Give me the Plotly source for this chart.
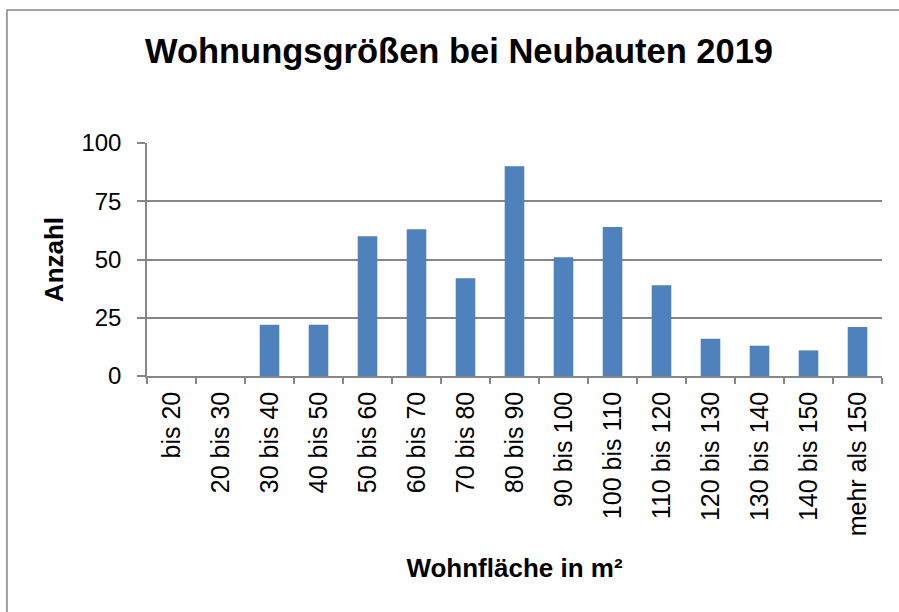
import plotly.graph_objects as go

# Wohnflächen-Klassen (m²) und Anzahl der Neubauwohnungen 2019
kategorien = ["bis 20", "20 bis 30", "30 bis 40", "40 bis 50", "50 bis 60",
              "60 bis 70", "70 bis 80", "80 bis 90", "90 bis 100", "100 bis 110",
              "110 bis 120", "120 bis 130", "130 bis 140", "140 bis 150",
              "mehr als 150"]
anzahl = [0, 0, 22, 22, 60, 63, 42, 90, 51, 64, 39, 16, 13, 11, 21]
y_ticks = [0, 25, 50, 75, 100]

FONT = "Liberation Sans, Arial, sans-serif"
GREY = "#868686"

fig = go.Figure(
    go.Bar(
        x=kategorien,
        y=anzahl,
        marker=dict(color="#4F81BD", line=dict(width=0)),
        hoverinfo="x+y",
    )
)

fig.update_layout(
    width=899,
    height=612,
    margin=dict(l=147, r=17, t=143, b=236),
    paper_bgcolor="white",
    plot_bgcolor="white",
    bargap=0.6,
    showlegend=False,
    font=dict(family=FONT, color="black"),
    title=dict(
        text="<b>Wohnungsgrößen bei Neubauten 2019</b>",
        font=dict(size=34.5, family=FONT, color="black"),
        x=459 / 899,
        xanchor="center",
        xref="container",
        y=1 - 50.5 / 612,
        yanchor="middle",
        yref="container",
    ),
    shapes=[
        dict(
            type="rect",
            xref="paper", yref="paper",
            x0=-0.1905, x1=1.04, y0=-1.06, y1=1.5708,
            line=dict(color=GREY, width=1.5),
            fillcolor="rgba(0,0,0,0)",
            layer="below",
        )
    ],
)

fig.update_xaxes(
    type="category",
    tickangle=-90,
    tickfont=dict(size=25, family=FONT, color="black"),
    ticklabelstandoff=4,
    showline=True,
    linecolor=GREY,
    linewidth=1.5,
    ticks="outside",
    tickson="boundaries",
    ticklen=6,
    tickwidth=1.5,
    tickcolor=GREY,
    showgrid=False,
    title=dict(
        text="<b>Wohnfläche in m²</b>",
        font=dict(size=26, family=FONT, color="black"),
        standoff=24,
    ),
)

fig.update_yaxes(
    range=[0, 100],
    tickvals=y_ticks,
    tickfont=dict(size=24, family=FONT, color="black"),
    ticklabelstandoff=11,
    showline=True,
    linecolor=GREY,
    linewidth=1.5,
    ticks="outside",
    ticklen=8,
    tickwidth=1.5,
    tickcolor=GREY,
    showgrid=True,
    gridcolor=GREY,
    gridwidth=1.5,
    zeroline=False,
    title=dict(
        text="<b>Anzahl</b>",
        font=dict(size=26, family=FONT, color="black"),
        standoff=10,
    ),
)

fig.write_html("out.html")
